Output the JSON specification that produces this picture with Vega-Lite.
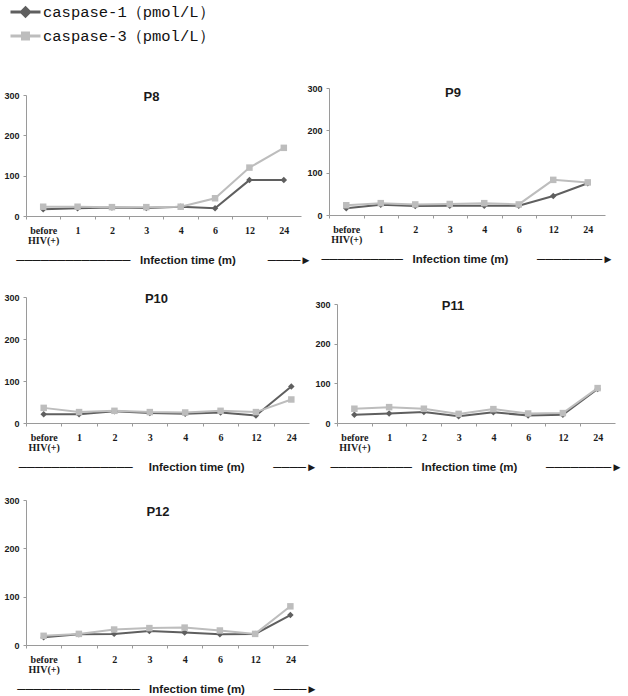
{
  "$schema": "https://vega.github.io/schema/vega-lite/v6.json",
  "padding": {"left": 3, "top": 3, "right": 2, "bottom": 0},
  "background": "white",
  "data": {"values": [
    {"panel": "P8", "time": "before", "c1": 17, "c3": 23},
    {"panel": "P8", "time": "1", "c1": 19, "c3": 23},
    {"panel": "P8", "time": "2", "c1": 21, "c3": 22},
    {"panel": "P8", "time": "3", "c1": 20, "c3": 22},
    {"panel": "P8", "time": "4", "c1": 23, "c3": 23},
    {"panel": "P8", "time": "6", "c1": 19, "c3": 44},
    {"panel": "P8", "time": "12", "c1": 89, "c3": 120},
    {"panel": "P8", "time": "24", "c1": 89, "c3": 169},
    {"panel": "P9", "time": "before", "c1": 16, "c3": 23},
    {"panel": "P9", "time": "1", "c1": 24, "c3": 28},
    {"panel": "P9", "time": "2", "c1": 21, "c3": 25},
    {"panel": "P9", "time": "3", "c1": 22, "c3": 26},
    {"panel": "P9", "time": "4", "c1": 22, "c3": 28},
    {"panel": "P9", "time": "6", "c1": 22, "c3": 25},
    {"panel": "P9", "time": "12", "c1": 45, "c3": 83},
    {"panel": "P9", "time": "24", "c1": 75, "c3": 77},
    {"panel": "P10", "time": "before", "c1": 21, "c3": 36},
    {"panel": "P10", "time": "1", "c1": 21, "c3": 26},
    {"panel": "P10", "time": "2", "c1": 28, "c3": 29},
    {"panel": "P10", "time": "3", "c1": 24, "c3": 26},
    {"panel": "P10", "time": "4", "c1": 22, "c3": 25},
    {"panel": "P10", "time": "6", "c1": 25, "c3": 29},
    {"panel": "P10", "time": "12", "c1": 18, "c3": 26},
    {"panel": "P10", "time": "24", "c1": 87, "c3": 56},
    {"panel": "P11", "time": "before", "c1": 21, "c3": 36},
    {"panel": "P11", "time": "1", "c1": 24, "c3": 40},
    {"panel": "P11", "time": "2", "c1": 28, "c3": 36},
    {"panel": "P11", "time": "3", "c1": 17, "c3": 23},
    {"panel": "P11", "time": "4", "c1": 27, "c3": 35},
    {"panel": "P11", "time": "6", "c1": 19, "c3": 24},
    {"panel": "P11", "time": "12", "c1": 21, "c3": 25},
    {"panel": "P11", "time": "24", "c1": 86, "c3": 88},
    {"panel": "P12", "time": "before", "c1": 16, "c3": 19},
    {"panel": "P12", "time": "1", "c1": 22, "c3": 23},
    {"panel": "P12", "time": "2", "c1": 23, "c3": 32},
    {"panel": "P12", "time": "3", "c1": 29, "c3": 35},
    {"panel": "P12", "time": "4", "c1": 26, "c3": 36},
    {"panel": "P12", "time": "6", "c1": 22, "c3": 30},
    {"panel": "P12", "time": "12", "c1": 23, "c3": 23},
    {"panel": "P12", "time": "24", "c1": 62, "c3": 80}
  ]},
  "transform": [
    {"fold": ["c1", "c3"], "as": ["key", "value"]},
    {"lookup": "key", "from": {"data": {"values": [
      {"key": "c1", "series": "caspase-1（pmol/L）"},
      {"key": "c3", "series": "caspase-3（pmol/L）"}
    ]}, "key": "key", "fields": ["series"]}}
  ],
  "concat": [
    {
      "transform": [{"filter": "datum.panel === 'P8'"}],
      "width": 275, "height": 128,
      "title": {"text": "P8", "dx": -12, "dy": 20},
      "encoding": {
        "x": {"field": "time", "type": "ordinal", "sort": ["before", "1", "2", "3", "4", "6", "12", "24"], "scale": {"type": "point", "padding": 0.5},
          "axis": {"tickOffset": -17.2, "labelOffset": 17.2, "labelExpr": "datum.value === 'before' ? ['before', 'HIV(+)'] : datum.value",
            "title": "──────────────\u00a0\u00a0\u00a0Infection time (m)\u00a0\u00a0\u00a0\u00a0\u00a0\u00a0\u00a0\u00a0\u00a0\u00a0────►"}},
        "y": {"field": "value", "type": "quantitative", "scale": {"domain": [0, 300], "range": [128, 7]}, "axis": {"values": [0, 100, 200, 300], "title": null}},
        "color": {"field": "series", "type": "nominal", "scale": {"domain": ["caspase-1（pmol/L）", "caspase-3（pmol/L）"], "range": ["#5f5f5f", "#bdbdbd"]},
          "legend": {"title": null, "orient": "none", "legendX": -17, "legendY": -85, "direction": "vertical", "padding": 0, "symbolSize": 225, "labelOffset": 16, "rowPadding": 4,
            "labelFont": "Liberation Mono", "labelFontSize": 15.5, "labelColor": "#111", "labelFontWeight": "normal", "labelLimit": 0,
            "encode": {"symbols": {"update": {
              "shape": {"signal": "datum.value === 'caspase-1（pmol/L）' ? 'M-1,0H3M1,-0.55L1.55,0L1,0.55L0.45,0Z' : 'M-1,0H3M0.6,-0.4H1.4V0.4H0.6Z'"},
              "fill": {"signal": "scale('color', datum.value)"},
              "stroke": {"signal": "scale('color', datum.value)"},
              "strokeWidth": {"value": 3}, "opacity": {"value": 1}}}}}}
      },
      "layer": [
        {"mark": {"type": "line", "strokeWidth": 2}},
        {"mark": {"type": "point", "filled": true, "opacity": 1, "size": 42},
         "encoding": {"shape": {"field": "series", "type": "nominal", "scale": {"range": ["diamond", "square"]}, "legend": null}}}
      ]
    },
    {
      "transform": [{"filter": "datum.panel === 'P9'"}],
      "width": 276, "height": 127,
      "title": {"text": "P9", "dx": -14, "dy": 20},
      "encoding": {
        "x": {"field": "time", "type": "ordinal", "sort": ["before", "1", "2", "3", "4", "6", "12", "24"], "scale": {"type": "point", "padding": 0.5},
          "axis": {"tickOffset": -17.25, "labelOffset": 17.25, "labelExpr": "datum.value === 'before' ? ['before', 'HIV(+)'] : datum.value",
            "title": "──────────\u00a0\u00a0\u00a0Infection time (m)\u00a0\u00a0\u00a0\u00a0\u00a0\u00a0\u00a0\u00a0\u00a0────────►"}},
        "y": {"field": "value", "type": "quantitative", "scale": {"domain": [0, 300]}, "axis": {"values": [0, 100, 200, 300], "title": null}},
        "color": {"field": "series", "type": "nominal", "legend": null}
      },
      "layer": [
        {"mark": {"type": "line", "strokeWidth": 2}},
        {"mark": {"type": "point", "filled": true, "opacity": 1, "size": 42},
         "encoding": {"shape": {"field": "series", "type": "nominal", "scale": {"range": ["diamond", "square"]}, "legend": null}}}
      ]
    },
    {
      "transform": [{"filter": "datum.panel === 'P10'"}],
      "width": 283, "height": 130,
      "title": {"text": "P10", "dx": -11, "dy": 17},
      "encoding": {
        "x": {"field": "time", "type": "ordinal", "sort": ["before", "1", "2", "3", "4", "6", "12", "24"], "scale": {"type": "point", "padding": 0.5},
          "axis": {"tickOffset": -17.7, "labelOffset": 17.7, "labelExpr": "datum.value === 'before' ? ['before', 'HIV(+)'] : datum.value",
            "title": "──────────────\u00a0\u00a0\u00a0\u00a0\u00a0Infection time (m)\u00a0\u00a0\u00a0\u00a0\u00a0\u00a0\u00a0\u00a0\u00a0────►"}},
        "y": {"field": "value", "type": "quantitative", "scale": {"domain": [0, 300], "range": [130, 4]}, "axis": {"values": [0, 100, 200, 300], "title": null}},
        "color": {"field": "series", "type": "nominal", "legend": null}
      },
      "layer": [
        {"mark": {"type": "line", "strokeWidth": 2}},
        {"mark": {"type": "point", "filled": true, "opacity": 1, "size": 42},
         "encoding": {"shape": {"field": "series", "type": "nominal", "scale": {"range": ["diamond", "square"]}, "legend": null}}}
      ]
    },
    {
      "transform": [{"filter": "datum.panel === 'P11'"}],
      "width": 286, "height": 130,
      "title": {"text": "P11", "dx": -19, "dy": 24},
      "encoding": {
        "x": {"field": "time", "type": "ordinal", "sort": ["before", "1", "2", "3", "4", "6", "12", "24"], "scale": {"type": "point", "padding": 0.5, "range": [8, 286]},
          "axis": {"tickOffset": -17.4, "labelOffset": 17.4, "labelExpr": "datum.value === 'before' ? ['before', 'HIV(+)'] : datum.value",
            "title": "\u00a0\u00a0\u00a0\u00a0──────────\u00a0\u00a0\u00a0Infection time (m)\u00a0\u00a0\u00a0\u00a0\u00a0\u00a0\u00a0\u00a0\u00a0────────►"}},
        "y": {"field": "value", "type": "quantitative", "scale": {"domain": [0, 300], "range": [130, 11]}, "axis": {"values": [0, 100, 200, 300], "title": null, "offset": -8}},
        "color": {"field": "series", "type": "nominal", "legend": null}
      },
      "layer": [
        {"mark": {"type": "line", "strokeWidth": 2}},
        {"mark": {"type": "point", "filled": true, "opacity": 1, "size": 42},
         "encoding": {"shape": {"field": "series", "type": "nominal", "scale": {"range": ["diamond", "square"]}, "legend": null}}}
      ]
    },
    {
      "transform": [{"filter": "datum.panel === 'P12'"}],
      "width": 282, "height": 145,
      "title": {"text": "P12", "dx": -9, "dy": 27},
      "encoding": {
        "x": {"field": "time", "type": "ordinal", "sort": ["before", "1", "2", "3", "4", "6", "12", "24"], "scale": {"type": "point", "padding": 0.5},
          "axis": {"tickOffset": -17.6, "labelOffset": 17.6, "labelExpr": "datum.value === 'before' ? ['before', 'HIV(+)'] : datum.value",
            "title": "───────────────\u00a0\u00a0\u00a0Infection time (m)\u00a0\u00a0\u00a0\u00a0\u00a0\u00a0\u00a0\u00a0\u00a0────►"}},
        "y": {"field": "value", "type": "quantitative", "scale": {"domain": [0, 300]}, "axis": {"values": [0, 100, 200, 300], "title": null}},
        "color": {"field": "series", "type": "nominal", "legend": null}
      },
      "layer": [
        {"mark": {"type": "line", "strokeWidth": 2}},
        {"mark": {"type": "point", "filled": true, "opacity": 1, "size": 42},
         "encoding": {"shape": {"field": "series", "type": "nominal", "scale": {"range": ["diamond", "square"]}, "legend": null}}}
      ]
    }
  ],
  "columns": 2,
  "bounds": "flush",
  "align": "none",
  "spacing": {"row": 77, "column": 20},
  "config": {
    "view": {"stroke": null},
    "font": "Liberation Sans",
    "axis": {"domainColor": "#9a9a9a", "tickColor": "#9a9a9a", "tickSize": 3, "grid": false, "labelColor": "#1a1a1a", "labelFontWeight": "bold"},
    "axisX": {"labelFont": "Liberation Serif", "labelFontSize": 10, "labelAngle": 0, "labelPadding": 6, "labelLineHeight": 10, "labelBaseline": "top",
      "titleFont": "Liberation Sans", "titleFontSize": 11.5, "titleFontWeight": "bold", "titleColor": "#1a1a1a", "titlePadding": 9},
    "axisY": {"labelFont": "Liberation Sans", "labelFontSize": 9, "labelPadding": 4},
    "title": {"font": "Liberation Sans", "fontSize": 13, "fontWeight": "bold", "color": "#1a1a1a", "anchor": "middle", "frame": "group", "baseline": "middle", "offset": 0}
  }
}
